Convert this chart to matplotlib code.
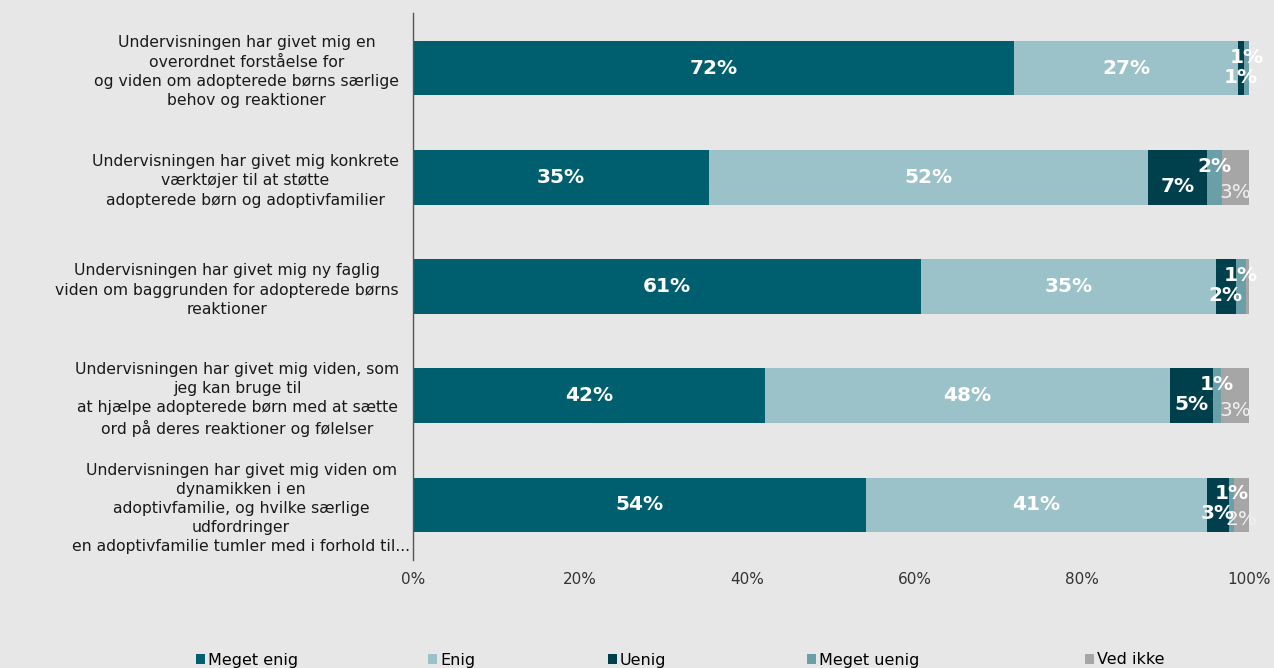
import matplotlib
matplotlib.use("Agg")
import matplotlib.pyplot as plt
from matplotlib.patches import Patch
from matplotlib.transforms import ScaledTranslation
import numpy as np

categories = [
    "Undervisningen har givet mig en\noverordnet forståelse for\nog viden om adopterede børns særlige\nbehov og reaktioner",
    "Undervisningen har givet mig konkrete\nværktøjer til at støtte\nadopterede børn og adoptivfamilier",
    "Undervisningen har givet mig ny faglig\nviden om baggrunden for adopterede børns\nreaktioner",
    "Undervisningen har givet mig viden, som\njeg kan bruge til\nat hjælpe adopterede børn med at sætte\nord på deres reaktioner og følelser",
    "Undervisningen har givet mig viden om\ndynamikken i en\nadoptivfamilie, og hvilke særlige\nudfordringer\nen adoptivfamilie tumler med i forhold til...",
]
series_names = ["Meget enig", "Enig", "Uenig", "Meget uenig", "Ved ikke"]
meget_enig = [71.9, 35.4, 60.8, 42.1, 54.2]
enig = [26.8, 52.5, 35.2, 48.5, 40.8]
uenig = [0.7, 7.1, 2.4, 5.1, 2.6]
meget_uenig = [0.6, 1.8, 1.2, 1.0, 0.6]
ved_ikke = [0.0, 3.2, 0.4, 3.3, 1.8]
xtick_labels = ["0%", "20%", "40%", "60%", "80%", "100%"]

colors = ["#005f6f", "#9bc2c8", "#00404d", "#6a9fa8", "#a6a6a6"]
label_colors = ["white", "white", "white", "white", "#f0f0f0"]
label_weights = ["bold", "bold", "bold", "bold", "normal"]
label_offsets_px = [0, 0, 9, -11, 15]

bg = "#e7e7e7"
W, H = 1274, 668
fig = plt.figure(figsize=(W / 100, H / 100), dpi=100, facecolor=bg)
ax = fig.add_axes([413 / W, 1 - 559.5 / H, (1249 - 413) / W, (559.5 - 13.5) / H], facecolor=bg)

data = [meget_enig, enig, uenig, meget_uenig, ved_ikke]
y = np.arange(len(categories))
left = np.zeros(len(categories))
for i, (vals, name) in enumerate(zip(data, series_names)):
    vals = np.array(vals)
    ax.barh(y, vals, left=left, height=0.5, color=colors[i], label=name)
    for j, v in enumerate(vals):
        lab = int(round(v))
        if lab >= 1:
            ax.annotate(f"{lab}%", xy=(left[j] + v / 2, y[j]), xytext=(0, -label_offsets_px[i] * 0.72),
                        textcoords="offset points", ha="center", va="center",
                        color=label_colors[i], fontweight=label_weights[i], fontsize=14.5)
    left += vals

ax.set_xlim(0, 100)
ax.set_ylim(len(categories) - 0.5, -0.5)
ax.set_xticks(np.arange(0, 101, 20))
ax.set_xticklabels(xtick_labels, fontsize=11, color="#333333")
ax.set_yticks(y)
ax.set_yticklabels(categories, fontsize=11.25, ha="right", multialignment="center", color="#1a1a1a")
ax.tick_params(axis="y", length=0, pad=10)
ax.tick_params(axis="x", length=0, pad=9)
for k, t in enumerate(ax.get_yticklabels()):
    t.set_linespacing(1.35)
    if k == len(categories) - 1:
        t.set_transform(t.get_transform() + ScaledTranslation(11 / 100, 0, fig.dpi_scale_trans))
for s in ["top", "right", "bottom"]:
    ax.spines[s].set_visible(False)
ax.spines["left"].set_color("#555555")
ax.spines["left"].set_linewidth(1)

legend_x = [196, 428, 608, 807, 1085]
for i, name in enumerate(series_names):
    fig.legend(handles=[Patch(facecolor=colors[i])], labels=[name], loc="center left",
               bbox_to_anchor=(legend_x[i] / W, 1 - 660 / H), frameon=False,
               handlelength=0.55, handleheight=0.55, handletextpad=0.2, borderpad=0, borderaxespad=0,
               prop={"family": ["Liberation Sans Narrow", "DejaVu Sans"], "size": 11.5})

fig.savefig("out.png", dpi=100, facecolor=bg)
